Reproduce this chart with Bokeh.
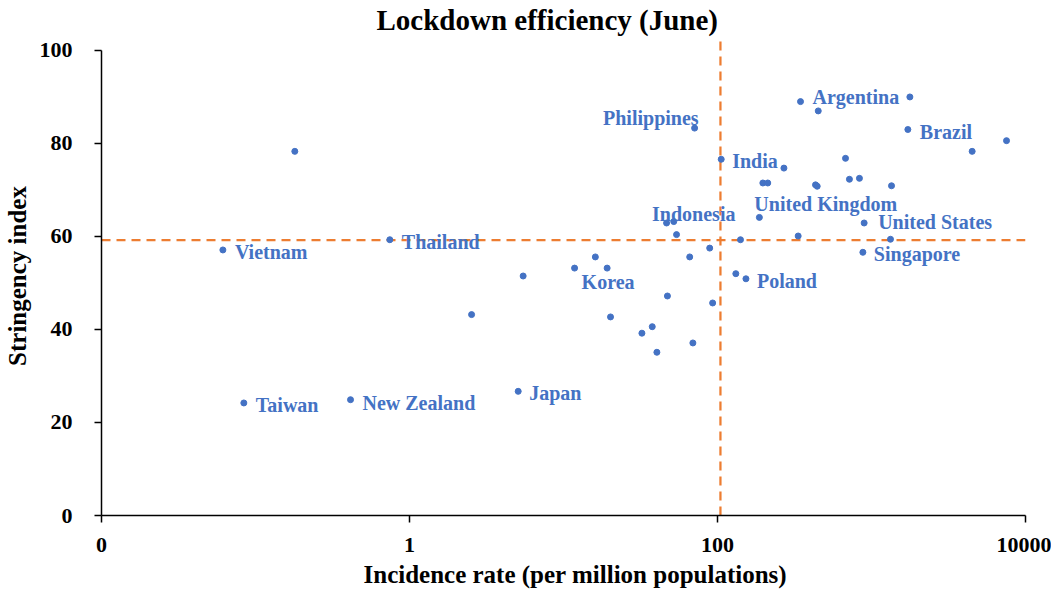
from bokeh.plotting import figure
from bokeh.models import Range1d, FixedTicker, CustomJSTickFormatter, ColumnDataSource, Title
from bokeh.core.properties import value
from bokeh.embed import file_html
from bokeh.resources import INLINE

# ---- data ----
incidence = [0.0614, 0.18, 0.745, 5.47, 2.53, 0.084, 0.414, 5.08,
             71, 346, 105.7, 270, 197, 212, 187, 46.7, 52, 54.2, 141, 334,
             89, 66, 16.1, 11.8, 19.2, 131.5, 153, 47.3, 93, 20.2, 37.7, 32.3,
             69.2, 40.4, 451, 1775, 1722, 7530, 4505, 678, 433, 444, 719, 835,
             1349, 896, 1328, 879]
stringency = [57.1, 78.3, 59.3, 51.5, 43.2, 24.2, 24.9, 26.7,
              83.3, 89.0, 76.6, 74.7, 71.5, 71.5, 64.1, 62.9, 63.2, 60.4, 59.3, 60.1,
              57.5, 55.6, 55.6, 53.2, 53.2, 52.0, 50.9, 47.2, 45.7, 42.7, 40.6, 39.2,
              37.1, 35.1, 87.0, 90.0, 83.0, 80.6, 78.3, 76.8, 71.1, 70.8, 72.3, 72.5,
              70.9, 62.9, 59.4, 56.6]
country = ["Vietnam", "", "Thailand", "", "", "Taiwan", "New Zealand", "Japan",
           "Philippines", "Argentina", "India", "", "", "", "United Kingdom", "", "Indonesia", "", "", "",
           "", "", "", "Korea", "", "", "Poland", "", "", "", "", "",
           "", "", "", "", "Brazil", "", "", "", "", "", "", "",
           "", "United States", "", "Singapore"]
x_ticks = [0.01, 1, 100, 10000]
y_ticks = [0, 20, 40, 60, 80, 100]
mean_incidence = 104.5
mean_stringency = 59.2

# label placement (pixels) : dx, dy, align
label_pos = {
    "Vietnam": (12, 2, "left"), "Thailand": (12, 2, "left"), "Taiwan": (12, 2, "left"),
    "New Zealand": (12, 3, "left"), "Japan": (11, 2, "left"), "Korea": (7, 14, "left"),
    "Philippines": (4, -10, "right"), "Indonesia": (20, -8, "center"), "India": (11, 2, "left"),
    "United Kingdom": (-5, -13, "left"), "United States": (14, -1, "left"),
    "Singapore": (11, 2, "left"), "Poland": (11, 2, "left"), "Brazil": (12, 2, "left"),
    "Argentina": (12, -5, "left"),
}

BLUE = "#4472C4"
ORANGE = "#ED7D31"
FONT = "Liberation Serif"

p = figure(width=1043, height=582, x_axis_type="log",
           x_range=Range1d(0.01, 10000), y_range=Range1d(0, 103),
           output_backend="svg", toolbar_location=None,
           frame_width=924, frame_height=479,
           min_border_left=97, min_border_right=26, min_border_top=34, min_border_bottom=40)
p.title.text = "Lockdown efficiency (June)"
p.title.align = "left"
p.title.offset = 275
p.title.text_font = FONT
p.title.text_font_size = "29px"
p.title.text_font_style = "bold"
p.title.text_color = "black"
p.title.standoff = 2

p.grid.visible = False
p.outline_line_color = None

for ax in (p.xaxis, p.yaxis):
    ax.axis_line_color = "black"
    ax.axis_line_width = 1.5
    ax.major_tick_line_color = "black"
    ax.major_tick_line_width = 1.5
    ax.major_tick_in = 0
    ax.major_tick_out = 7
    ax.minor_tick_line_color = None
    ax.major_label_text_font = FONT
    ax.major_label_text_font_style = "bold"
    ax.major_label_text_font_size = "22px"
    ax.major_label_text_color = "black"
    ax.axis_label_text_font = FONT
    ax.axis_label_text_font_style = "bold"
    ax.axis_label_text_font_size = "25px"
    ax.axis_label_text_color = "black"

p.xaxis.ticker = FixedTicker(ticks=x_ticks)
p.xaxis.formatter = CustomJSTickFormatter(code="return tick < 0.1 ? '0' : String(Math.round(tick));")
p.xaxis.major_label_standoff = 15

xlabel = Title(text="Incidence rate (per million populations)", align="left", offset=262,
               text_font=FONT, text_font_size="25px", text_font_style="bold",
               text_color="black", standoff=8)
p.add_layout(xlabel, "below")

p.yaxis.ticker = FixedTicker(ticks=y_ticks)
p.yaxis.bounds = (0, 100)
p.yaxis.axis_label = "Stringency index"
p.yaxis.major_label_standoff = 22
p.yaxis.axis_label_standoff = 6

# mean lines
p.line(x=[0.01, 10000], y=[mean_stringency, mean_stringency], line_color=ORANGE,
       line_width=2.25, line_dash="9 6")
p.line(x=[mean_incidence, mean_incidence], y=[0, 102.5], line_color=ORANGE,
       line_width=2.25, line_dash="9 6")

src = ColumnDataSource(dict(x=incidence, y=stringency, name=country))
p.scatter("x", "y", source=src, size=6, fill_color=BLUE, line_color=BLUE)

lx, ly, lt, dxs, dys, aligns = [], [], [], [], [], []
for xi, yi, n in zip(incidence, stringency, country):
    if n:
        dx, dy, al = label_pos[n]
        lx.append(xi); ly.append(yi); lt.append(n)
        dxs.append(dx); dys.append(dy); aligns.append(al)
lsrc = ColumnDataSource(dict(x=lx, y=ly, text=lt, dx=dxs, dy=dys, align=aligns))
p.text("x", "y", text="text", source=lsrc, x_offset="dx", y_offset="dy",
       text_align="align", text_baseline="middle", text_color=BLUE,
       text_font=value(FONT), text_font_style="bold", text_font_size="20px")

open("out.html", "w").write(file_html(p, INLINE))
